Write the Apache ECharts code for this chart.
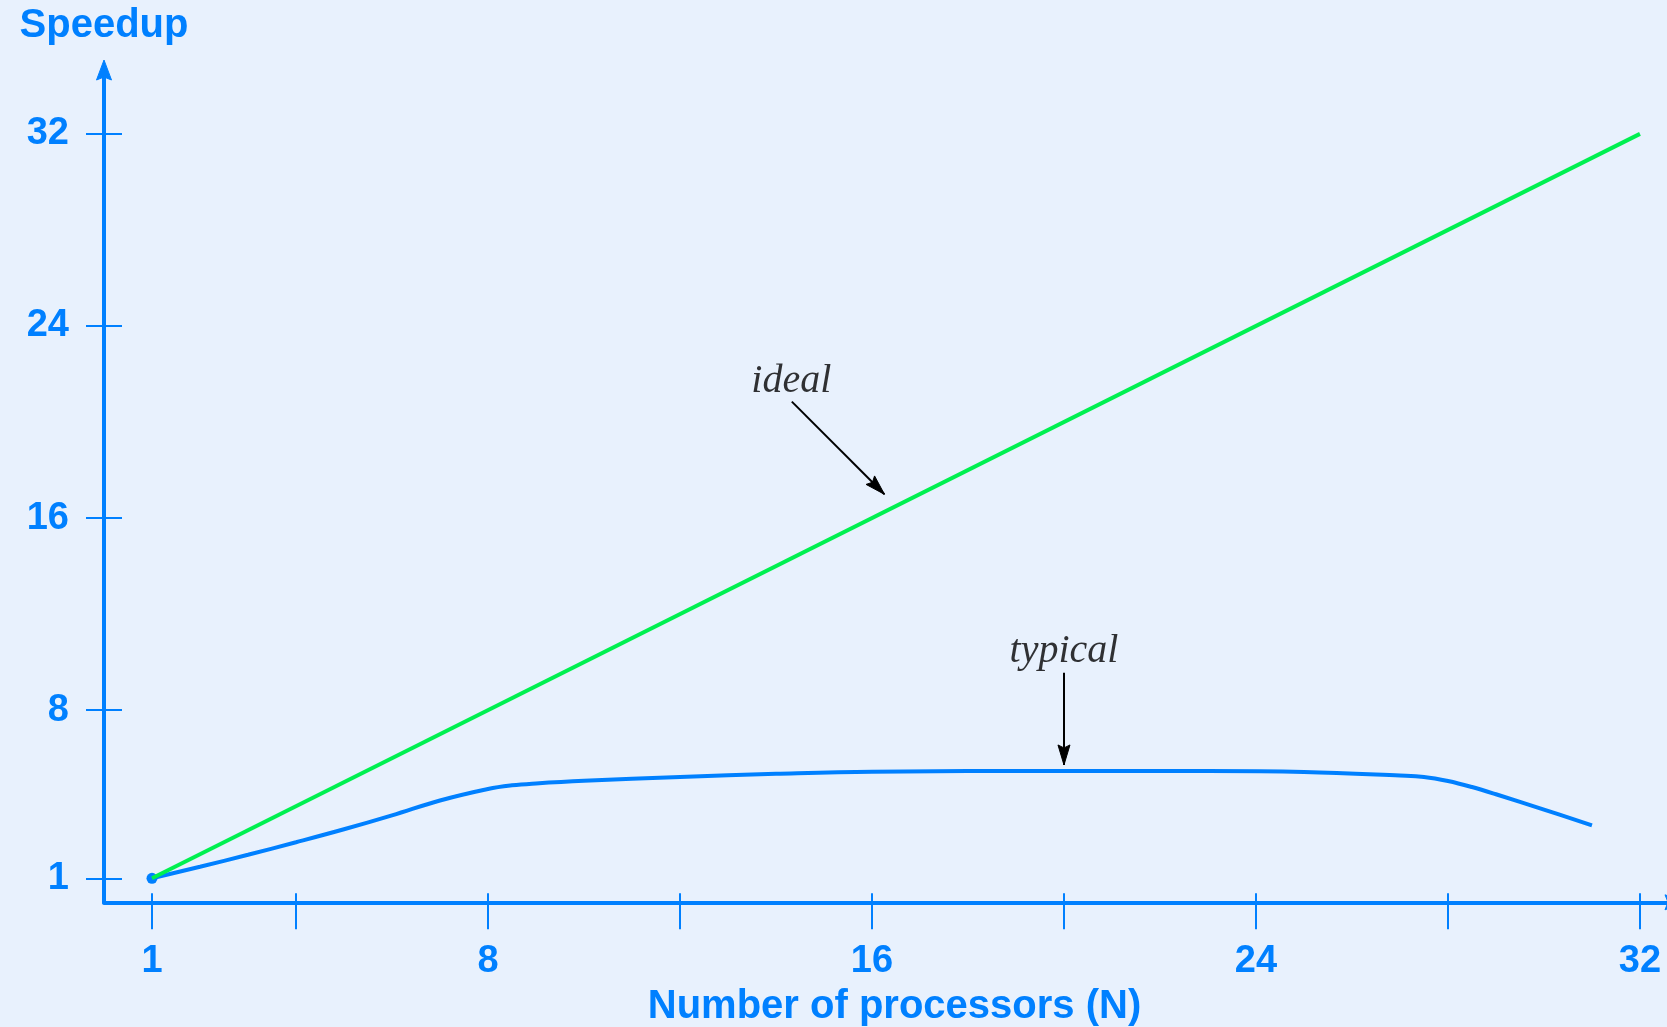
<!DOCTYPE html>
<html>
<head>
<meta charset="utf-8">
<script src="https://cdn.jsdelivr.net/npm/echarts@6/dist/echarts.min.js"></script>
<style>
  html, body { margin: 0; padding: 0; background: #e8f1fd; }
  #chart { width: 1667px; height: 1027px; }
</style>
</head>
<body>
<div id="chart"></div>
<script>
// Speedup versus number of processors: ideal (linear) and a typical measured curve.
const processors     = [1, 2, 3, 4, 5, 6, 7, 8, 8.5, 9, 10, 12, 14, 16, 20, 23, 25, 27, 27.5, 28, 28.5, 29, 30, 31];
const typicalSpeedup = [1.0, 1.48, 1.98, 2.5, 3.04, 3.62, 4.24, 4.72, 4.87, 4.95, 5.06, 5.22, 5.35, 5.44, 5.47, 5.47, 5.43, 5.28, 5.22, 5.05, 4.8, 4.5, 3.86, 3.2];

const idealProcessors = [1, 32];
const idealSpeedup    = [1, 32];

const xTickValues  = [1, 4, 8, 12, 16, 20, 24, 28, 32];
const xLabelValues = [1, 8, 16, 24, 32];
const yTickValues  = [1, 8, 16, 24, 32];
const yLabelValues = [1, 8, 16, 24, 32];

const xRange = [0, 32.73];
const yRange = [0, 34.66];

// Curve annotations (data units): caption anchor, arrow tail, arrow tip
const annotationText = ['ideal', 'typical'];
const annotationAt   = [[14.32, 21.69], [20.0, 10.45]];
const arrowFrom      = [[14.33, 20.85], [20.0, 9.56]];
const arrowTo        = [[16.26, 16.99], [20.0, 5.72]];

const BLUE  = '#0080ff';
const GREEN = '#00f050';
const SANS  = '"Liberation Sans", Arial, Helvetica, sans-serif';
const SERIF = '"Liberation Serif", "Times New Roman", Times, serif';

const tickStyle = { color: BLUE, width: 2 };
const labelStyle = { fontFamily: SANS, fontWeight: 'bold', fontSize: 38, color: BLUE };

function zip(a, b) { return a.map((v, i) => [v, b[i]]); }

const typicalData = zip(processors, typicalSpeedup).map((p, i) =>
  i === 0 ? { value: p, symbol: 'circle', symbolSize: 11 } : { value: p }
);

const chart = echarts.init(document.getElementById('chart'), null, { renderer: 'canvas' });

chart.setOption({
  backgroundColor: '#e8f1fd',
  animation: false,
  grid: {
    left: 104, right: -8, top: 70, bottom: 124.7,
    containLabel: false,
    outerBoundsMode: 'none'
  },
  xAxis: [
    {
      type: 'value', position: 'bottom', min: xRange[0], max: xRange[1],
      axisLine: { show: true, onZero: false, lineStyle: { color: BLUE, width: 4 } },
      axisTick: { show: true, inside: false, length: 27, customValues: xTickValues, lineStyle: tickStyle },
      axisLabel: Object.assign({ show: true, customValues: xLabelValues, margin: 40 }, labelStyle),
      splitLine: { show: false },
      name: 'Number of processors (N)',
      nameLocation: 'middle',
      nameGap: 85,
      nameTextStyle: { fontFamily: SANS, fontWeight: 'bold', fontSize: 40, color: BLUE, padding: [0, 0, 0, 10] }
    },
    {
      type: 'value', position: 'bottom', min: xRange[0], max: xRange[1],
      axisLine: { show: false, onZero: false },
      axisTick: { show: true, inside: true, length: 9, customValues: xTickValues, lineStyle: tickStyle },
      axisLabel: { show: false },
      splitLine: { show: false }
    }
  ],
  yAxis: [
    {
      type: 'value', position: 'left', min: yRange[0], max: yRange[1],
      axisLine: { show: true, onZero: false, lineStyle: { color: BLUE, width: 4 } },
      axisTick: { show: true, inside: false, length: 18, customValues: yTickValues, lineStyle: tickStyle },
      axisLabel: Object.assign({ show: true, customValues: yLabelValues, margin: 35, padding: [0, 0, 16, 0] }, labelStyle),
      splitLine: { show: false },
      name: 'Speedup',
      nameLocation: 'end',
      nameGap: 24,
      nameTextStyle: { fontFamily: SANS, fontWeight: 'bold', fontSize: 40, color: BLUE }
    },
    {
      type: 'value', position: 'left', min: yRange[0], max: yRange[1],
      axisLine: { show: false, onZero: false },
      axisTick: { show: true, inside: true, length: 18, customValues: yTickValues, lineStyle: tickStyle },
      axisLabel: { show: false },
      splitLine: { show: false }
    }
  ],
  series: [
    {
      name: 'typical', type: 'line', xAxisIndex: 0, yAxisIndex: 0,
      data: typicalData, smooth: 0.4, symbol: 'none', showSymbol: true,
      itemStyle: { color: BLUE },
      lineStyle: { color: BLUE, width: 4 },
      z: 2
    },
    {
      name: 'ideal', type: 'line', xAxisIndex: 0, yAxisIndex: 0,
      data: zip(idealProcessors, idealSpeedup), symbol: 'none',
      lineStyle: { color: GREEN, width: 4 },
      z: 3
    },
    {
      name: 'annotations', type: 'scatter', xAxisIndex: 0, yAxisIndex: 0,
      symbolSize: 1, itemStyle: { color: 'transparent' }, silent: true, z: 5,
      data: annotationText.map((t, i) => ({ name: t, value: annotationAt[i] })),
      label: {
        show: true, position: 'inside', formatter: '{b}',
        fontFamily: SERIF, fontStyle: 'italic', fontSize: 40, color: '#000'
      },
      markLine: {
        silent: true, animation: false,
        symbol: ['none', 'none'],
        lineStyle: { color: '#000', width: 2, type: 'solid' },
        label: { show: false },
        data: arrowFrom.map((p, i) => [{ coord: p }, { coord: arrowTo[i] }])
      }
    }
  ]
});

// Filled arrowhead with a shallow notch; tip at `tip`, pointing along `dir`.
function arrowHead(tip, dir, len, halfWidth, color) {
  const n = Math.hypot(dir[0], dir[1]);
  const ux = dir[0] / n, uy = dir[1] / n;
  const px = -uy, py = ux;
  const bx = tip[0] - ux * len, by = tip[1] - uy * len;
  const nx = tip[0] - ux * len * 0.85, ny = tip[1] - uy * len * 0.85;
  return {
    type: 'polygon', silent: true, z: 100,
    shape: { points: [
      tip,
      [bx + px * halfWidth, by + py * halfWidth],
      [nx, ny],
      [bx - px * halfWidth, by - py * halfWidth]
    ] },
    style: { fill: color, stroke: color, lineWidth: 1, lineJoin: 'miter' }
  };
}

const toPx = (p) => chart.convertToPixel({ gridIndex: 0 }, p);

const heads = [];
// Axis arrowheads, extending past the ends of both axis lines
const yEnd = toPx([xRange[0], yRange[1]]);
heads.push(arrowHead([yEnd[0], yEnd[1] - 10], [0, -1], 20, 7.5, BLUE));
const xEnd = toPx([xRange[1], yRange[0]]);
heads.push(arrowHead([xEnd[0] + 10, xEnd[1]], [1, 0], 20, 7.5, BLUE));
// Annotation arrowheads
arrowFrom.forEach((from, i) => {
  const a = toPx(from), b = toPx(arrowTo[i]);
  heads.push(arrowHead(b, [b[0] - a[0], b[1] - a[1]], 20, 6, '#000'));
});

chart.setOption({ graphic: heads });
</script>
</body>
</html>
